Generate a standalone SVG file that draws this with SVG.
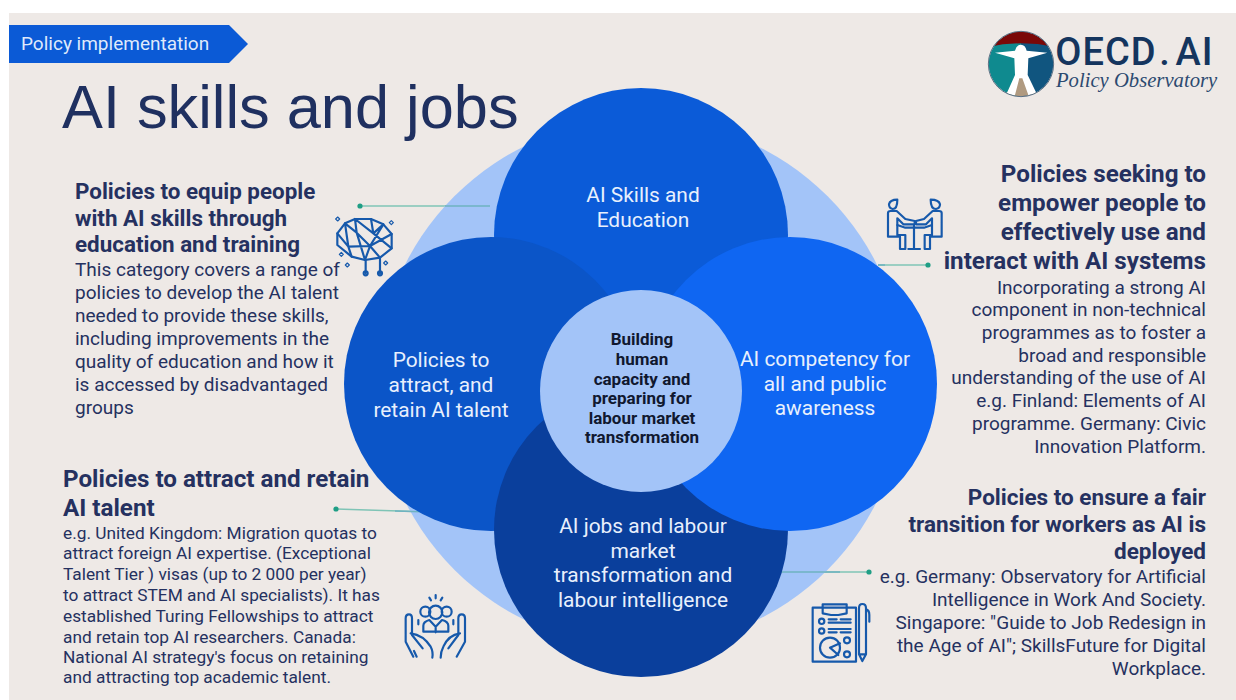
<svg xmlns="http://www.w3.org/2000/svg" width="1236" height="700" viewBox="0 0 1236 700">
<style>
text{font-family:Roboto,"Liberation Sans",sans-serif;fill:#253160}
.h{font-weight:700;font-size:22.4px}
.hl{font-weight:700;font-size:24.2px}
.hr{font-weight:700;font-size:24.2px;text-anchor:end}
.hs{font-weight:700;font-size:22.5px;text-anchor:end}
.b{font-size:19px}
.br{font-size:19px;text-anchor:end}
.s{font-size:17.3px}
.n{font-size:20.9px;fill:#e8f0fd;text-anchor:middle}
.c{font-size:17px;font-weight:700;fill:#10182f;text-anchor:middle}
.ic{fill:none;stroke:#1659ab;stroke-width:6.5;stroke-linecap:round;stroke-linejoin:round}
.cl{stroke:#7fc4b6;stroke-width:1.5;fill:none}
.d{fill:#1f9e85}
</style>
<defs><clipPath id="lc"><circle cx="183" cy="162" r="97"/></clipPath></defs>
<rect x="0" y="0" width="1236" height="700" fill="#fff"/>
<rect x="9" y="13" width="1227" height="687" fill="#eee9e6"/>
<g id="banner">
<path d="M9 25H229L248 44L229 63H9Z" fill="#0b5ad6"/>
<text x="21" y="50" font-size="19" style="fill:#dfe9fb">Policy implementation</text>
</g>
<text id="title" x="62" y="128" font-size="61.3" style="font-family:'Liberation Sans',sans-serif;fill:#1f3060">AI skills and jobs</text>
<g id="logo" transform="translate(960 10) scale(.33333)">
<g clip-path="url(#lc)">
<rect x="183" y="60" width="105" height="205" fill="#10557f"/>
<rect x="80" y="60" width="103" height="205" fill="#0f8a8f"/>
<path d="M80 60H290V112Q183 88 80 112Z" fill="#7a0808"/>
<path d="M130 265L183 185L240 265Z" fill="#b09a80"/>
<path d="M105 128L165 122Q170 104 183 104Q196 104 200 122L262 128L205 145L203 195L232 255H205L187 205L178 205L165 255H138L165 195L163 145Z" fill="#fff"/>
</g>
<circle cx="183" cy="162" r="98" fill="none" stroke="#5a6f84" stroke-width="3"/>
<text x="286" y="165" font-size="114" style="fill:#14355e;letter-spacing:3px;font-weight:500">OECD<tspan dx="8">.</tspan><tspan dx="14">AI</tspan></text>
<text x="288" y="230" font-size="62" font-style="italic" style="font-family:'Liberation Serif',serif;fill:#2c4a70">Policy Observatory</text>
</g>
<g id="connectors">
<path class="cl" d="M360 206H490"/><circle class="d" cx="360" cy="206" r="2.6"/>
<path class="cl" d="M878 265H928"/><circle class="d" cx="928" cy="265" r="2.6"/>
<path class="cl" d="M336 509L430 512"/><circle class="d" cx="336" cy="509" r="2.6"/>
<path class="cl" d="M776 572H869"/><circle class="d" cx="869" cy="572" r="2.6"/>
</g>
<g id="ring"><circle cx="641" cy="383" r="264" fill="#a3c4f8"/></g>
<g id="connectors-over-ring">
<path class="cl" d="M445 206H490M878 265H885M395 511L430 512M776 572H840" style="stroke:#6fb3c0"/>
</g>
<g id="node-top"><circle cx="641" cy="235" r="147" fill="#0b5bd8"/>
<text class="n" x="643" y="202">AI Skills and</text><text class="n" x="643" y="227">Education</text></g>
<g id="node-left"><circle cx="491" cy="384" r="147" fill="#0b55c8"/>
<text class="n" x="441" y="367">Policies to</text><text class="n" x="441" y="392">attract, and</text><text class="n" x="441" y="417">retain AI talent</text></g>
<g id="node-bottom"><circle cx="641" cy="530" r="147" fill="#0a3f9c"/>
<text class="n" x="643" y="533">AI jobs and labour</text><text class="n" x="643" y="558">market</text><text class="n" x="643" y="582">transformation and</text><text class="n" x="643" y="607">labour intelligence</text></g>
<g id="node-right"><circle cx="790" cy="384" r="147" fill="#0f66f2"/>
<text class="n" x="825" y="366">AI competency for</text><text class="n" x="825" y="391">all and public</text><text class="n" x="825" y="415">awareness</text></g>
<g id="node-centre"><circle cx="641" cy="391" r="101" fill="#a3c4f8"/>
<text class="c" x="642" y="345">Building</text><text class="c" x="642" y="365">human</text><text class="c" x="642" y="385">capacity and</text><text class="c" x="642" y="404">preparing for</text><text class="c" x="642" y="424">labour market</text><text class="c" x="642" y="443">transformation</text></g>
<g id="text-top-left">
<text class="h" x="75" y="199">Policies to equip people</text>
<text class="h" x="75" y="226">with AI skills through</text>
<text class="h" x="75" y="252">education and training</text>
<text class="b" x="75" y="276">This category covers a range of</text>
<text class="b" x="75" y="299">policies to develop the AI talent</text>
<text class="b" x="75" y="322">needed to provide these skills,</text>
<text class="b" x="75" y="345">including improvements in the</text>
<text class="b" x="75" y="368">quality of education and how it</text>
<text class="b" x="75" y="391">is accessed by disadvantaged</text>
<text class="b" x="75" y="414">groups</text>
</g>
<g id="text-bottom-left">
<text class="hl" x="63" y="487">Policies to attract and retain</text>
<text class="hl" x="63" y="516">AI talent</text>
<text class="s" x="63" y="539">e.g. United Kingdom: Migration quotas to</text>
<text class="s" x="63" y="559">attract foreign AI expertise. (Exceptional</text>
<text class="s" x="63" y="580">Talent Tier ) visas (up to 2 000 per year)</text>
<text class="s" x="63" y="601">to attract STEM and AI specialists). It has</text>
<text class="s" x="63" y="622">established Turing Fellowships to attract</text>
<text class="s" x="63" y="643">and retain top AI researchers. Canada:</text>
<text class="s" x="63" y="663">National AI strategy's focus on retaining</text>
<text class="s" x="63" y="683">and attracting top academic talent.</text>
</g>
<g id="text-top-right">
<text class="hr" x="1206" y="182">Policies seeking to</text>
<text class="hr" x="1206" y="211">empower people to</text>
<text class="hr" x="1206" y="240">effectively use and</text>
<text class="hr" x="1206" y="269">interact with AI systems</text>
<text class="br" x="1206" y="294">Incorporating a strong AI</text>
<text class="br" x="1206" y="316">component in non-technical</text>
<text class="br" x="1206" y="339">programmes as to foster a</text>
<text class="br" x="1206" y="362">broad and responsible</text>
<text class="br" x="1206" y="384">understanding of the use of AI</text>
<text class="br" x="1206" y="407">e.g. Finland: Elements of AI</text>
<text class="br" x="1206" y="430">programme. Germany: Civic</text>
<text class="br" x="1206" y="453">Innovation Platform.</text>
</g>
<g id="text-bottom-right">
<text class="hs" x="1206" y="505">Policies to ensure a fair</text>
<text class="hs" x="1206" y="532">transition for workers as AI is</text>
<text class="hs" x="1206" y="559">deployed</text>
<text class="br" x="1206" y="583">e.g. Germany: Observatory for Artificial</text>
<text class="br" x="1206" y="606">Intelligence in Work And Society.</text>
<text class="br" x="1206" y="629">Singapore: "Guide to Job Redesign in</text>
<text class="br" x="1206" y="652">the Age of AI"; SkillsFuture for Digital</text>
<text class="br" x="1206" y="675">Workplace.</text>
</g>
<g id="icon-brain" transform="translate(320 190) scale(.33333)" class="ic">
<path d="M52 130L75 100L105 87L153 87L190 103L215 132L215 175L180 203L135 210L95 200L52 165Z"/>
<path d="M75 100L110 128L105 87M105 87L160 130L153 87M190 103L160 130L215 175M75 100L85 170L52 130M110 128L135 210M110 128L150 168L215 132M85 170L150 168L135 210M85 170L95 200M190 103L150 168L180 203M137 210V250M180 203V250"/>
<circle cx="137" cy="250" r="6"/><circle cx="180" cy="250" r="6"/>
<path d="M53 81l6 6l-6 6l-6 -6zM214 92l6 6l-6 6l-6 -6zM64 187l6 6l-6 6l-6 -6zM82 219l6 6l-6 6l-6 -6zM197 213l6 6l-6 6l-6 -6z" stroke-width="3.5"/>
</g>
<g id="icon-people" transform="translate(860 185) scale(.33333)" class="ic">
<path d="M87 58Q90 44 112 44Q112 72 98 72Q87 70 87 58Z"/><path d="M240 58Q237 44 212 44Q212 72 228 72Q240 70 240 58Z"/>
<path d="M84 145V84Q84 78 92 78H110L136 102L164 108V118H130L112 100V150H136V192H120V155H84Z"/>
<path d="M245 145V84Q245 78 237 78H218L192 102L168 108V118H198L216 100V150H194V192H210V155H245Z"/>
<path d="M162 122V192M145 192H180M112 120L136 128H192L216 120"/>
</g>
<g id="icon-care" transform="translate(390 585) scale(.33333)" class="ic">
<path d="M70 215L47 170V100Q47 88 57 88Q66 88 66 100V150L98 190"/><path d="M62 145Q100 150 122 185Q130 200 127 218"/><path d="M72 198L80 215"/>
<path d="M200 215L225 170V100Q225 88 215 88Q205 88 205 100V150L175 190"/><path d="M210 145Q175 150 160 185Q152 200 152 218"/>
<circle cx="137" cy="82" r="20"/><circle cx="106" cy="80" r="15"/><circle cx="170" cy="80" r="15"/>
<path d="M100 140V122Q100 110 118 105L137 125L156 105Q175 110 175 122V140ZM85 118V105M190 118V105M137 125V142"/>
<path d="M137 30V40M118 38L123 46M157 38L152 46"/>
</g>
<g id="icon-clipboard" transform="translate(770 560) scale(.33333)" class="ic">
<rect x="128" y="143" width="130" height="162"/>
<path d="M158 133H230V160L205 165H183L158 160Z"/>
<circle cx="155" cy="184" r="8"/><circle cx="155" cy="213" r="8"/>
<path d="M176 178H200M176 188H242M212 178H242M176 207H242M176 217H200M212 217H242"/>
<circle cx="180" cy="263" r="30"/><path d="M180 263L210 250M180 263L205 285"/>
<circle cx="231" cy="241" r="9"/><circle cx="231" cy="283" r="9"/>
<path d="M267 145Q267 132 277 132Q288 132 288 145V283L277 303L267 283ZM267 283H288M288 148Q298 150 298 165V185"/>
</g>
</svg>
